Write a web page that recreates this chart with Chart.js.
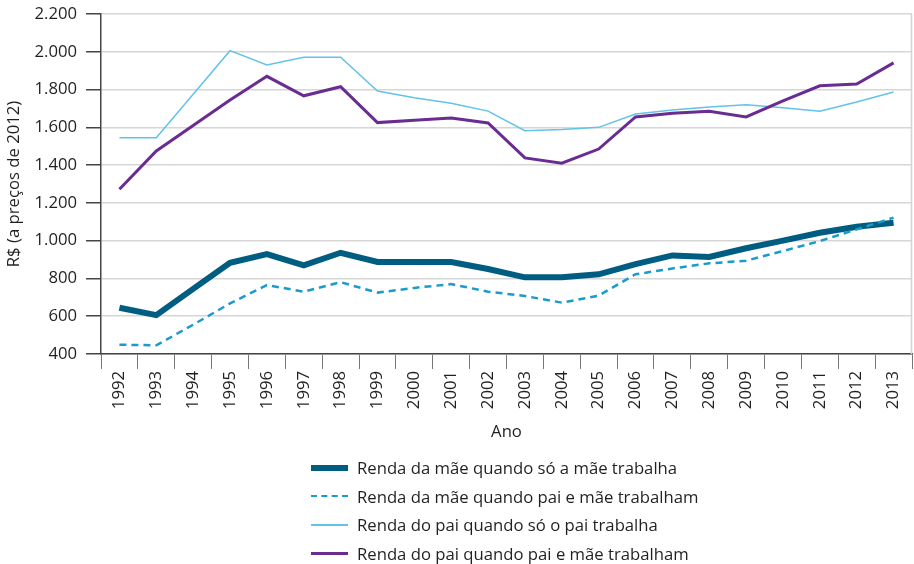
<!DOCTYPE html>
<html><head><meta charset="utf-8">
<script src="https://cdn.jsdelivr.net/npm/chart.js@4/dist/chart.umd.min.js"></script>
<style>
html,body{margin:0;padding:0;background:#fff;}
#wrap{position:relative;width:914px;height:564px;}
canvas{position:absolute;left:0;top:0;}
#legend{position:absolute;left:311px;top:454px;font-family:"Open Sans",sans-serif;font-size:16.7px;color:#231f20;}
.row{position:relative;height:28.6px;line-height:28.6px;white-space:nowrap;}
.sw{position:absolute;left:0;top:14px;width:37px;}
.txt{position:absolute;left:46px;top:0;}
</style></head>
<body><div id="wrap"><canvas id="c" width="914" height="564"></canvas><div id="legend"></div></div>
<script>
const YEARS = ['1992','1993','1994','1995','1996','1997','1998','1999','2000','2001','2002','2003','2004','2005','2006','2007','2008','2009','2010','2011','2012','2013'];
const MAE_SO_MAE = [645,606,745,883,929,869,936,887,887,887,850,806,806,822,876,922,914,960,1000,1042,1074,1095];
const MAE_PAI_E_MAE = [449,446,555,668,765,730,780,725,750,770,730,707,672,709,822,853,880,894,945,998,1060,1122];
const PAI_SO_PAI = [1545,1545,1775,2006,1930,1971,1971,1792,1757,1727,1686,1582,1588,1600,1671,1692,1708,1720,1704,1685,1734,1787];
const PAI_PAI_E_MAE = [1272,1475,1610,1745,1870,1767,1815,1625,1637,1649,1623,1438,1410,1485,1655,1674,1685,1655,1740,1820,1829,1941];
const NAMES = ['Renda da mãe quando só a mãe trabalha','Renda da mãe quando pai e mãe trabalham','Renda do pai quando só o pai trabalha','Renda do pai quando pai e mãe trabalham'];
const Y_MIN = 400, Y_MAX = 2200, Y_STEP = 200;

const FONT = '"Open Sans", sans-serif';
const FS = 16.7;
const TXT = '#231f20';
const styles = [
  {color:'#005d82', width:6, dash:[]},
  {color:'#1a9bcd', width:2.5, dash:[7,5]},
  {color:'#62c2ea', width:1.5, dash:[]},
  {color:'#6a2c91', width:3, dash:[]}
];
const legendWidths = [6, 2.5, 2, 3];
const series = [MAE_SO_MAE, MAE_PAI_E_MAE, PAI_SO_PAI, PAI_PAI_E_MAE];
const orders = [1,0,3,2];

function fmt(v){ return String(v).replace(/\B(?=(\d{3})+(?!\d))/g,'.'); }

const rightLine = {
  id:'rightLine',
  beforeDatasetsDraw(chart){
    const {ctx, chartArea:a} = chart;
    ctx.save(); ctx.strokeStyle='#d4d4d4'; ctx.lineWidth=1.5;
    ctx.beginPath(); ctx.moveTo(a.right-0.5,a.top); ctx.lineTo(a.right-0.5,a.bottom); ctx.stroke();
    ctx.restore();
  }
};

new Chart(document.getElementById('c'), {
  type:'line',
  data:{
    labels:YEARS,
    datasets: series.map((d,i)=>({
      label:NAMES[i], data:d, borderColor:styles[i].color, backgroundColor:styles[i].color,
      borderWidth:styles[i].width, borderDash:styles[i].dash, pointRadius:0, tension:0, fill:false,
      order:orders[i], borderJoinStyle:'miter', borderCapStyle:'butt'
    }))
  },
  options:{
    responsive:false, animation:false,
    layout:{padding:{top:14,right:2,bottom:122,left:0}},
    plugins:{legend:{display:false}, tooltip:{enabled:false}},
    scales:{
      x:{
        offset:true,
        afterFit(s){ s.height = 88; s.paddingLeft = 0; s.paddingRight = 0; },
        grid:{offset:true, drawOnChartArea:false, color:'#777', tickColor:'#777', tickLength:15, lineWidth:1},
        border:{color:'#444', width:1.5},
        ticks:{color:TXT, font:{family:FONT,size:FS}, minRotation:90, maxRotation:90, autoSkip:false, padding:2},
        title:{display:true, text:'Ano', color:TXT, font:{family:FONT,size:FS}, padding:{top:0,bottom:0}}
      },
      y:{
        min:Y_MIN, max:Y_MAX,
        afterFit(s){ s.width = 101; s.paddingTop = 0; s.paddingBottom = 0; },
        grid:{color:'#d6d6d6', lineWidth:1.5, tickColor:'#444', tickLength:15},
        border:{color:'#444', width:1.5},
        ticks:{stepSize:Y_STEP, color:TXT, font:{family:FONT,size:FS}, padding:9, callback:v=>fmt(v)},
        title:{display:true, text:'R$ (a preços de 2012)', color:TXT, font:{family:FONT,size:FS}, padding:{top:4,bottom:0}}
      }
    }
  },
  plugins:[rightLine]
});

const lg = document.getElementById('legend');
NAMES.forEach((n,i)=>{
  const r = document.createElement('div'); r.className='row';
  const s = document.createElement('div'); s.className='sw';
  const st = styles[i];
  const w = legendWidths[i];
  s.style.borderTop = w+'px '+(st.dash.length?'dashed':'solid')+' '+st.color;
  s.style.marginTop = (-w/2)+'px';
  const t = document.createElement('span'); t.className='txt'; t.textContent=n;
  r.appendChild(s); r.appendChild(t); lg.appendChild(r);
});
</script></body></html>
